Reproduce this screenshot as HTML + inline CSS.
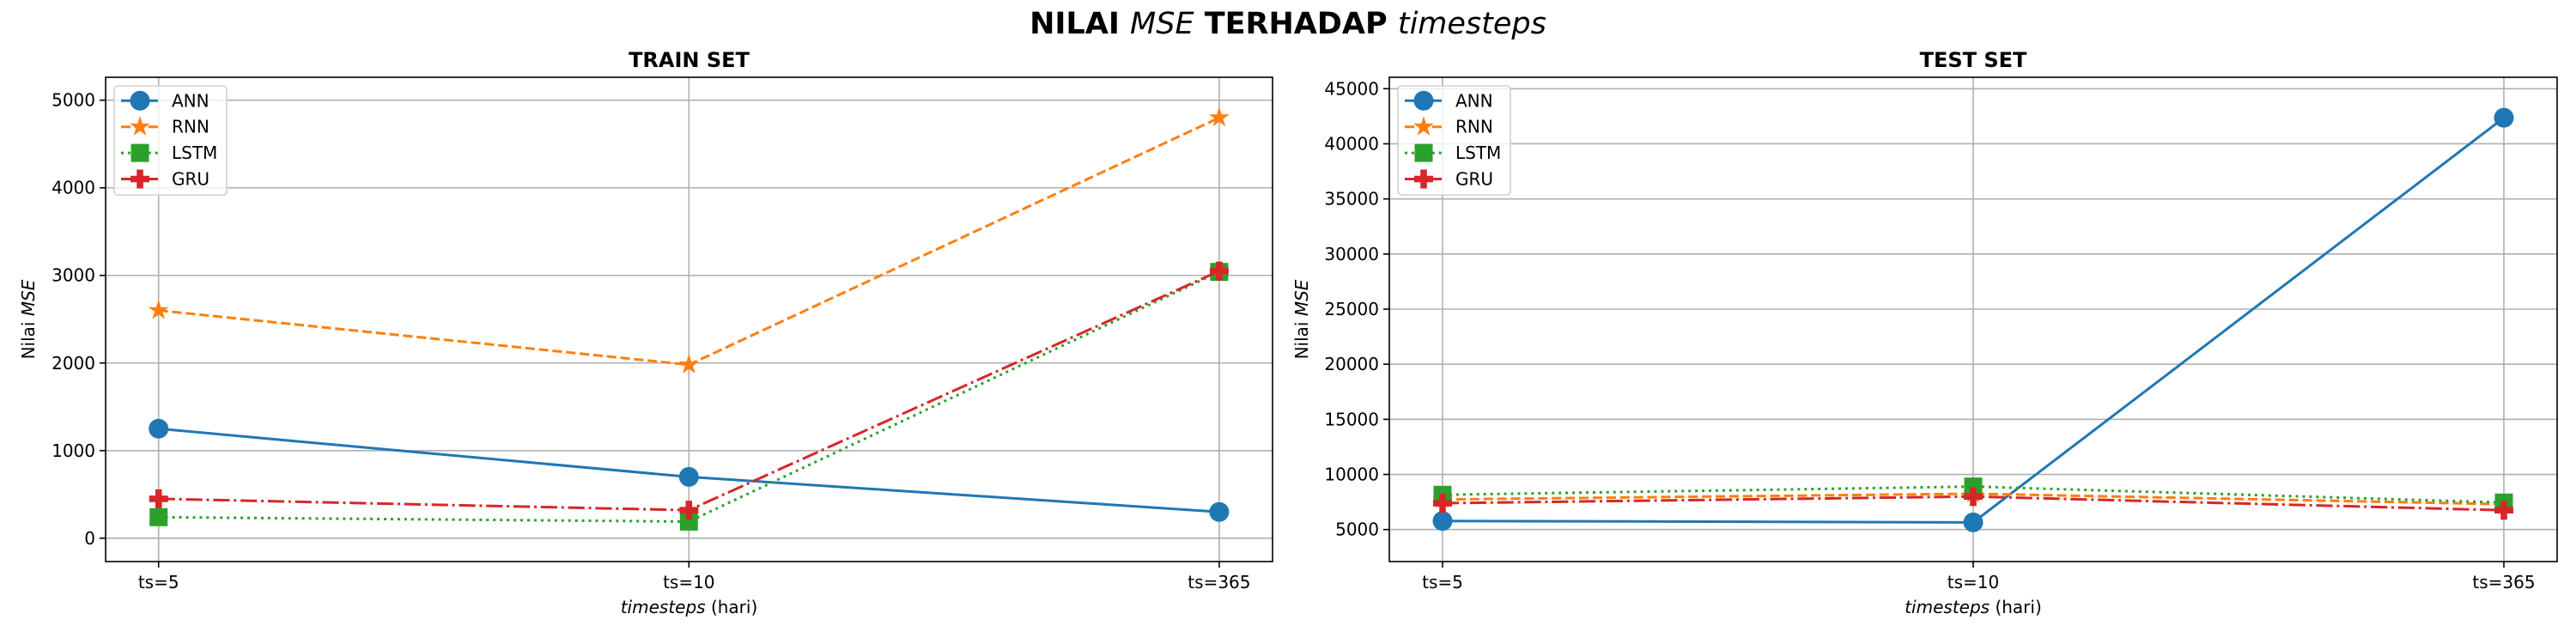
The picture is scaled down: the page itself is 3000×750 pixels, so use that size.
<!DOCTYPE html>
<html><head><meta charset="utf-8"><style>
html,body{margin:0;padding:0;background:#fff;}
svg{display:block;font-family:"DejaVu Sans","Liberation Sans",sans-serif;}
</style></head><body>
<svg id="chart" width="3000" height="750" viewBox="0 0 3000 750" xmlns="http://www.w3.org/2000/svg">
<text x="1500" y="39" text-anchor="middle" font-size="35" font-weight="bold">NILAI <tspan font-style="italic" font-weight="normal">MSE</tspan> TERHADAP <tspan font-style="italic" font-weight="normal">timesteps</tspan></text>
</svg>
<script>
const categories = ["ts=5", "ts=10", "ts=365"];
const seriesNames = ["ANN", "RNN", "LSTM", "GRU"];
const trainANN = [1250, 700, 300];
const trainRNN = [2600, 1980, 4800];
const trainLSTM = [240, 190, 3040];
const trainGRU = [450, 320, 3050];
const testANN = [5780, 5650, 42360];
const testRNN = [7730, 8250, 7300];
const testLSTM = [8150, 8900, 7450];
const testGRU = [7390, 7990, 6750];
const trainTicks = [0, 1000, 2000, 3000, 4000, 5000];
const testTicks = [5000, 10000, 15000, 20000, 25000, 30000, 35000, 40000, 45000];

const NS = "http://www.w3.org/2000/svg";
const svg = document.getElementById('chart');
const colors = ["#1f77b4", "#ff7f0e", "#2ca02c", "#d62728"];
const dashes = [null, "11.1 4.8", "3 4.95", "19.2 4.8 3 4.8"];
const markers = ["circle", "star", "square", "plus"];

function mk(tag, attrs, parent) {
  const e = document.createElementNS(NS, tag);
  for (const k in attrs) e.setAttribute(k, attrs[k]);
  (parent || svg).appendChild(e);
  return e;
}
function markerEl(type, x, y, color, parent) {
  let e;
  if (type === "circle") e = mk("circle", {cx: x, cy: y, r: 11.5, fill: color}, parent);
  else if (type === "square") e = mk("rect", {x: x - 10.5, y: y - 10.5, width: 21, height: 21, fill: color}, parent);
  else if (type === "star") {
    let pts = [];
    for (let i = 0; i < 10; i++) {
      const r = i % 2 === 0 ? 12.5 : 12.5 * 0.381966;
      const a = -Math.PI / 2 + i * Math.PI / 5;
      pts.push((x + r * Math.cos(a)).toFixed(2) + "," + (y + r * Math.sin(a)).toFixed(2));
    }
    e = mk("polygon", {points: pts.join(" "), fill: color}, parent);
  } else {
    const s = 11, t = 3.8;
    const p = [[-t,-s],[t,-s],[t,-t],[s,-t],[s,t],[t,t],[t,s],[-t,s],[-t,t],[-s,t],[-s,-t],[-t,-t]];
    e = mk("polygon", {points: p.map(q => (x+q[0])+","+(y+q[1])).join(" "), fill: color}, parent);
  }
  return e;
}

function panel(cfg) {
  const g = mk("g", {});
  
  
  const L = cfg.left, R = cfg.right, T = 90, B = 654;
  const yS = v => cfg.y0px + (v - cfg.v0) * (cfg.y1px - cfg.y0px) / (cfg.v1 - cfg.v0);
  const xS = i => cfg.xpx[0] + i * (cfg.xpx[1] - cfg.xpx[0]);
  cfg.ticks.forEach(t => {
    const y = yS(t);
    const gl = mk("line", {x1: L, x2: R, y1: y, y2: y, stroke: "#b0b0b0", "stroke-width": 1.6}, g);
    
    
    mk("line", {x1: L - 7, x2: L, y1: y, y2: y, stroke: "#000", "stroke-width": 1.6}, g);
    const tl = mk("text", {x: L - 12, y: y + 7, "text-anchor": "end", "font-size": 20}, g);
    tl.textContent = t;
    
    
  });
  categories.forEach((c, i) => {
    const x = xS(i);
    const gl = mk("line", {x1: x, x2: x, y1: T, y2: B, stroke: "#b0b0b0", "stroke-width": 1.6}, g);
    
    
    mk("line", {x1: x, x2: x, y1: B, y2: B + 7, stroke: "#000", "stroke-width": 1.6}, g);
    const tl = mk("text", {x: x, y: B + 31, "text-anchor": "middle", "font-size": 20}, g);
    tl.textContent = c;
    
    
  });
  cfg.series.forEach((vals, si) => {
    const sg = mk("g", {}, g);
    
    
    const pts = vals.map((v, i) => xS(i) + "," + yS(v)).join(" ");
    const a = {points: pts, fill: "none", stroke: colors[si], "stroke-width": 3};
    if (dashes[si]) a["stroke-dasharray"] = dashes[si];
    const pl = mk("polyline", a, sg);
    
    
    vals.forEach((v, i) => {
      const m = markerEl(markers[si], xS(i), yS(v), colors[si], sg);
      
      
    });
  });
  const fr = mk("rect", {x: L, y: T, width: R - L, height: B - T, fill: "none", stroke: "#000", "stroke-width": 1.6}, g);
  
  
  const tt = mk("text", {x: (L + R) / 2, y: 78, "text-anchor": "middle", "font-size": 24, "font-weight": "bold"}, g);
  tt.textContent = cfg.title;
  
  
  const xl = mk("text", {x: (L + R) / 2, y: 714, "text-anchor": "middle", "font-size": 20}, g);
  xl.innerHTML = '<tspan font-style="italic">timesteps</tspan> (hari)';
  
  
  const yl = mk("text", {x: 0, y: 0, "text-anchor": "middle", "font-size": 20, transform: "translate(" + cfg.ylabX + ",372) rotate(-90)"}, g);
  yl.innerHTML = 'Nilai <tspan font-style="italic">MSE</tspan>';
  
  
  const lg = mk("g", {}, g);
  
  
  const lx = L + 10;
  mk("rect", {x: lx, y: 100, width: 131, height: 127, rx: 4, fill: "#fff", "fill-opacity": 0.8, stroke: "#d0d0d0", "stroke-width": 1.6}, lg);
  seriesNames.forEach((n, si) => {
    const ey = 117.3 + si * 30.4;
    const eg = mk("g", {}, lg);
    
    
    const a = {x1: lx + 8, x2: lx + 51, y1: ey, y2: ey, stroke: colors[si], "stroke-width": 3};
    if (dashes[si]) a["stroke-dasharray"] = dashes[si];
    mk("line", a, eg);
    markerEl(markers[si], lx + 30, ey, colors[si], eg);
    const t = mk("text", {x: lx + 67, y: ey + 7, "font-size": 20}, eg);
    t.textContent = n;
  });
}

panel({name: "train-set-panel", title: "TRAIN SET", left: 123, right: 1482,
  xpx: [184.7, 802.3], v0: 0, v1: 5000, y0px: 626.8, y1px: 116.7,
  ticks: trainTicks, series: [trainANN, trainRNN, trainLSTM, trainGRU], ylabX: 40});
panel({name: "test-set-panel", title: "TEST SET", left: 1618, right: 2978,
  xpx: [1680, 2298], v0: 5000, v1: 45000, y0px: 616.7, y1px: 103.3,
  ticks: testTicks, series: [testANN, testRNN, testLSTM, testGRU], ylabX: 1523});
</script>
</body></html>
